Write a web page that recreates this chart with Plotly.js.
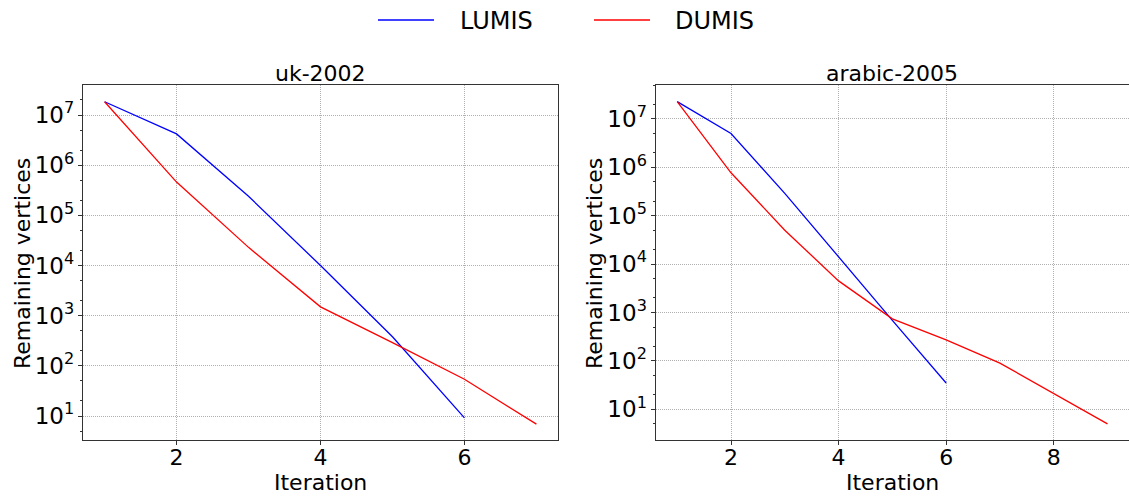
<!DOCTYPE html>
<html>
<head>
<meta charset="utf-8">
<script src="https://cdn.plot.ly/plotly-3.0.1.min.js"></script>
<style>html,body{margin:0;padding:0;background:#fff;}#chart{width:1129px;height:496px;}</style>
</head>
<body>
<div id="chart"></div>
<script>
// Data
const ukIter = [1, 2, 3, 4, 5, 6, 7];
const ukLUMIS = [1.84e7, 4.2e6, 2.4e5, 1.0e4, 380, 9.2];
const ukDUMIS = [1.84e7, 4.6e5, 2.3e4, 1.5e3, 290, 54, 6.9];

const arIter = [1, 2, 3, 4, 5, 6, 7, 8, 9];
const arLUMIS = [2.27e7, 5.0e6, 2.9e5, 1.4e4, 690, 35];
const arDUMIS = [2.27e7, 7.7e5, 5.0e4, 4.5e3, 740, 273, 90, 21, 5.0];

const seriesNames = ["LUMIS", "DUMIS"];
const seriesColors = ["#0000ff", "#ff0000"];
const titles = ["uk-2002", "arabic-2005"];
const xTitle = "Iteration";
const yTitle = "Remaining vertices";
const yTickVals = [1e1, 1e2, 1e3, 1e4, 1e5, 1e6, 1e7];
const yTickText = ["10<sup>1</sup>", "10<sup>2</sup>", "10<sup>3</sup>", "10<sup>4</sup>", "10<sup>5</sup>", "10<sup>6</sup>", "10<sup>7</sup>"];

const W = 1129, H = 496;
const font = "DejaVu Sans, sans-serif";
const px = v => v / W;          // paper x from pixel
const py = v => 1 - v / H;      // paper y from pixel

function line(x, y, i, xa, ya) {
  return {
    x: x.slice(0, y.length), y: y, type: "scatter", mode: "lines",
    name: seriesNames[i], showlegend: false,
    line: {color: seriesColors[i], width: 1.3},
    xaxis: xa, yaxis: ya
  };
}

const traces = [
  line(ukIter, ukLUMIS, 0, "x", "y"),
  line(ukIter, ukDUMIS, 1, "x", "y"),
  line(arIter, arLUMIS, 0, "x2", "y2"),
  line(arIter, arDUMIS, 1, "x2", "y2")
];

const L1 = 83, R1 = 558, L2 = 655.7, R2 = 1129, T = 85, B = 440;

function xax(domain, range, anchor) {
  return {
    domain: domain, range: range, anchor: anchor,
    dtick: 2, tick0: 0,
    showline: true, mirror: true, linecolor: "#333", linewidth: 1.2,
    ticks: "outside", ticklen: 4, tickcolor: "#333", tickwidth: 1,
    ticklabelstandoff: -7,
    showgrid: true, gridcolor: "#b0b0b0", griddash: "1px,1px", gridwidth: 1,
    zeroline: false,
    tickfont: {family: font, size: 22, color: "#000"}
  };
}
function yax(range, anchor) {
  return {
    domain: [py(B), py(T)], range: range, anchor: anchor, type: "log",
    tickvals: yTickVals, ticktext: yTickText,
    showline: true, mirror: true, linecolor: "#333", linewidth: 1.2,
    ticks: "outside", ticklen: 4, tickcolor: "#333", tickwidth: 1,
    ticklabelstandoff: -1,
    minor: {ticks: "outside", ticklen: 2, tickcolor: "#333", showgrid: false},
    showgrid: true, gridcolor: "#b0b0b0", griddash: "1px,1px", gridwidth: 1,
    zeroline: false,
    tickfont: {family: font, size: 23, color: "#000"}
  };
}

const txt = (text, x, y, size, opts) => Object.assign({
  text: text, xref: "paper", yref: "paper", x: x, y: y,
  xanchor: "center", yanchor: "middle", showarrow: false,
  font: {family: font, size: size, color: "#000"}
}, opts || {});

// manual legend (matplotlib style: long line sample, then label)
const legendLines = [[378, 434], [594, 650]];
const legendTextX = [458, 673];
const legendY = 20;

const shapes = legendLines.map((l, i) => ({
  type: "line", xref: "paper", yref: "paper",
  x0: px(l[0]), x1: px(l[1]), y0: py(legendY), y1: py(legendY),
  line: {color: seriesColors[i], width: 1.3}
}));

const annotations = [
  txt(titles[0], px((L1 + R1) / 2), py(73), 22),
  txt(titles[1], px((L2 + R2) / 2), py(73), 22),
  txt(xTitle, px((L1 + R1) / 2), py(482), 22),
  txt(xTitle, px((L2 + R2) / 2), py(482), 22),
  txt(yTitle, px(22), py(264), 22, {textangle: -90}),
  txt(yTitle, px(594), py(264), 22, {textangle: -90}),
  txt(seriesNames[0], px(legendTextX[0]), py(21), 24, {xanchor: "left"}),
  txt(seriesNames[1], px(legendTextX[1]), py(21), 24, {xanchor: "left"})
];

const layout = {
  width: W, height: H,
  margin: {l: 0, r: 0, t: 0, b: 0},
  paper_bgcolor: "#fff", plot_bgcolor: "#fff",
  font: {family: font, color: "#000"},
  xaxis: xax([px(L1), px(R1)], [0.7, 7.3], "y"),
  yaxis: yax([0.522, 7.598], "x"),
  xaxis2: xax([px(L2), 1], [0.6, 9.4], "y2"),
  yaxis2: yax([0.366, 7.70], "x2"),
  showlegend: false,
  shapes: shapes,
  annotations: annotations
};

Plotly.newPlot("chart", traces, layout, {staticPlot: true, displayModeBar: false});
</script>
</body>
</html>
